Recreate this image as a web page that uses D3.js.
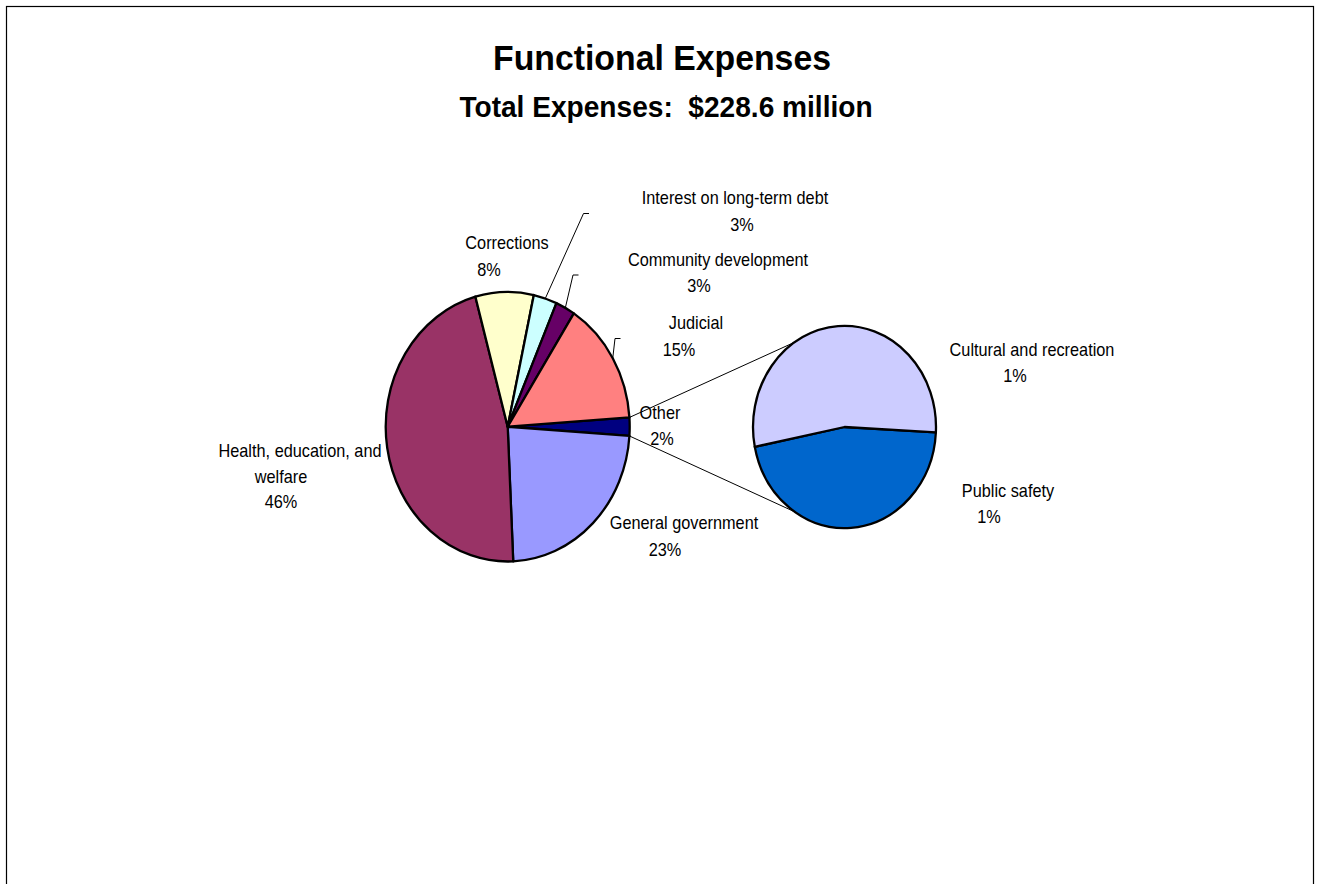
<!DOCTYPE html>
<html><head><meta charset="utf-8">
<script src="https://cdn.jsdelivr.net/npm/d3@7"></script>
<style>
body{margin:0;background:#fff}
svg{display:block}
text{font-family:"Liberation Sans",Arial,Helvetica,sans-serif;fill:#000;white-space:pre}
</style>
</head><body>
<svg id="chart" width="1321" height="884"></svg>
<script>
// ---------- data (values in $ million) ----------
const titleText = "Functional Expenses";
const subtitleText = "Total Expenses:  $228.6 million";
const mainCategories = ["General government","Health, education, and welfare","Corrections","Interest on long-term debt","Community development","Judicial"];
const mainValues = [53.0, 106.2, 17.6, 7.1, 5.9, 33.8];
const mainColors = ["#9999FF","#993366","#FFFFCC","#CCFFFF","#660066","#FF8080"];
const otherLabel = "Other";
const otherColor = "#000080";
const otherCategories = ["Public safety","Cultural and recreation"];
const otherValues = [2.3, 2.7];
const otherColors = ["#0066CC","#CCCCFF"];

// ---------- layout ----------
const W = 1321, H = 884;
const SY = 1.105;                       // vertical stretch of the picture
const main = {cx: 507.7, cy: 426.7, r: 122};
const sec  = {cx: 844.5, cy: 427, r: 91.5};
const secStart = 93.1 * Math.PI / 180;
const connectorSpread = 57 * Math.PI / 180;
const labelLayout = {
  "Interest on long-term debt": {lines:[[735,204]], pct:[742,231], elbow:[583.5,213.5]},
  "Corrections": {lines:[[507,249]], pct:[489,276]},
  "Community development": {lines:[[718,266]], pct:[699,292], elbow:[573,275]},
  "Judicial": {lines:[[696,329]], pct:[679,356], elbow:[615,338.5]},
  "Other": {lines:[[660,419]], pct:[662,445]},
  "Health, education, and welfare": {lines:[[300,457],[281,483]], pct:[281,508], wrap:["Health, education, and","welfare"]},
  "General government": {lines:[[684,529]], pct:[665,556]},
  "Cultural and recreation": {lines:[[1032,356]], pct:[1015,382]},
  "Public safety": {lines:[[1008,497]], pct:[989,523]}
};

const svg = d3.select("#chart");
svg.append("rect").attr("x",6.5).attr("y",6.5).attr("width",1307).attr("height",920)
   .attr("fill","#fff").attr("stroke","#000").attr("stroke-width",1.2);

// titles
svg.append("text").attr("transform","translate(662,70) scale(1,1.05)").attr("text-anchor","middle")
   .attr("font-size",33.8).attr("font-weight","bold").text(titleText);
svg.append("text").attr("transform","translate(666,117) scale(1,1.03)").attr("text-anchor","middle")
   .attr("font-size",28.1).attr("font-weight","bold").text(subtitleText);

// ---------- main pie ----------
const otherTotal = d3.sum(otherValues);
const cats = [otherLabel, ...mainCategories];
const vals = [otherTotal, ...mainValues];
const cols = [otherColor, ...mainColors];
const total = d3.sum(vals);
const otherAng = 2*Math.PI*otherTotal/total;
const start = Math.PI/2 - otherAng/2;
const pie = d3.pie().sort(null).value(d=>d.v).startAngle(start).endAngle(start+2*Math.PI);
const mainData = pie(cats.map((c,i)=>({c, v:vals[i], col:cols[i]})));
const arcMain = d3.arc().innerRadius(0).outerRadius(main.r);
const pct = d3.format(".0%");

function edge(p, a){ return [p.cx + p.r*Math.sin(a), p.cy - p.r*Math.cos(a)*SY]; }

// connector lines (drawn under pies)
const otherSlice = mainData[0];
const secTop = 3*Math.PI/2 + connectorSpread, secBot = 3*Math.PI/2 - connectorSpread;
[[edge(main, otherSlice.startAngle), edge(sec, secTop)],
 [edge(main, otherSlice.endAngle), edge(sec, secBot)]].forEach(([a,b])=>{
  svg.append("line").attr("x1",a[0]).attr("y1",a[1]).attr("x2",b[0]).attr("y2",b[1])
     .attr("stroke","#000").attr("stroke-width",1);
});

const gMain = svg.append("g").attr("transform",`translate(${main.cx},${main.cy}) scale(1,${SY})`);
gMain.selectAll("path").data(mainData).join("path")
  .attr("d", arcMain).attr("fill", d=>d.data.col)
  .attr("stroke","#000").attr("stroke-width",2.3).attr("stroke-linejoin","round")
  .attr("vector-effect","non-scaling-stroke");

// ---------- secondary pie ----------
const pie2 = d3.pie().sort(null).value(d=>d.v).startAngle(secStart).endAngle(secStart+2*Math.PI);
const secData = pie2(otherCategories.map((c,i)=>({c, v:otherValues[i], col:otherColors[i]})));
const arcSec = d3.arc().innerRadius(0).outerRadius(sec.r);
const gSec = svg.append("g").attr("transform",`translate(${sec.cx},${sec.cy}) scale(1,${SY})`);
gSec.selectAll("path").data(secData).join("path")
  .attr("d", arcSec).attr("fill", d=>d.data.col)
  .attr("stroke","#000").attr("stroke-width",2.3).attr("stroke-linejoin","round")
  .attr("vector-effect","non-scaling-stroke");

// ---------- labels ----------
function drawLabel(name, value, slice, pieGeom){
  const L = labelLayout[name];
  const lines = L.wrap || [name];
  lines.forEach((t,i)=>{
    const [x,y] = L.lines[i];
    svg.append("text").attr("transform",`translate(${x},${y}) scale(1,1.1)`)
      .attr("text-anchor","middle").attr("font-size",16.3).text(t);
  });
  svg.append("text").attr("transform",`translate(${L.pct[0]},${L.pct[1]}) scale(1,1.1)`)
    .attr("text-anchor","middle").attr("font-size",16.3).text(pct(value/total));
  if (L.elbow && slice){
    const mid = (slice.startAngle + slice.endAngle)/2;
    const p0 = edge(pieGeom, mid);
    svg.append("path")
      .attr("d", d3.line()([p0, L.elbow, [L.elbow[0]+5.5, L.elbow[1]]]))
      .attr("fill","none").attr("stroke","#000").attr("stroke-width",1);
  }
}
mainData.forEach(d=>drawLabel(d.data.c, d.data.v, d, main));
secData.forEach(d=>drawLabel(d.data.c, d.data.v, d, sec));
</script>
</body></html>
